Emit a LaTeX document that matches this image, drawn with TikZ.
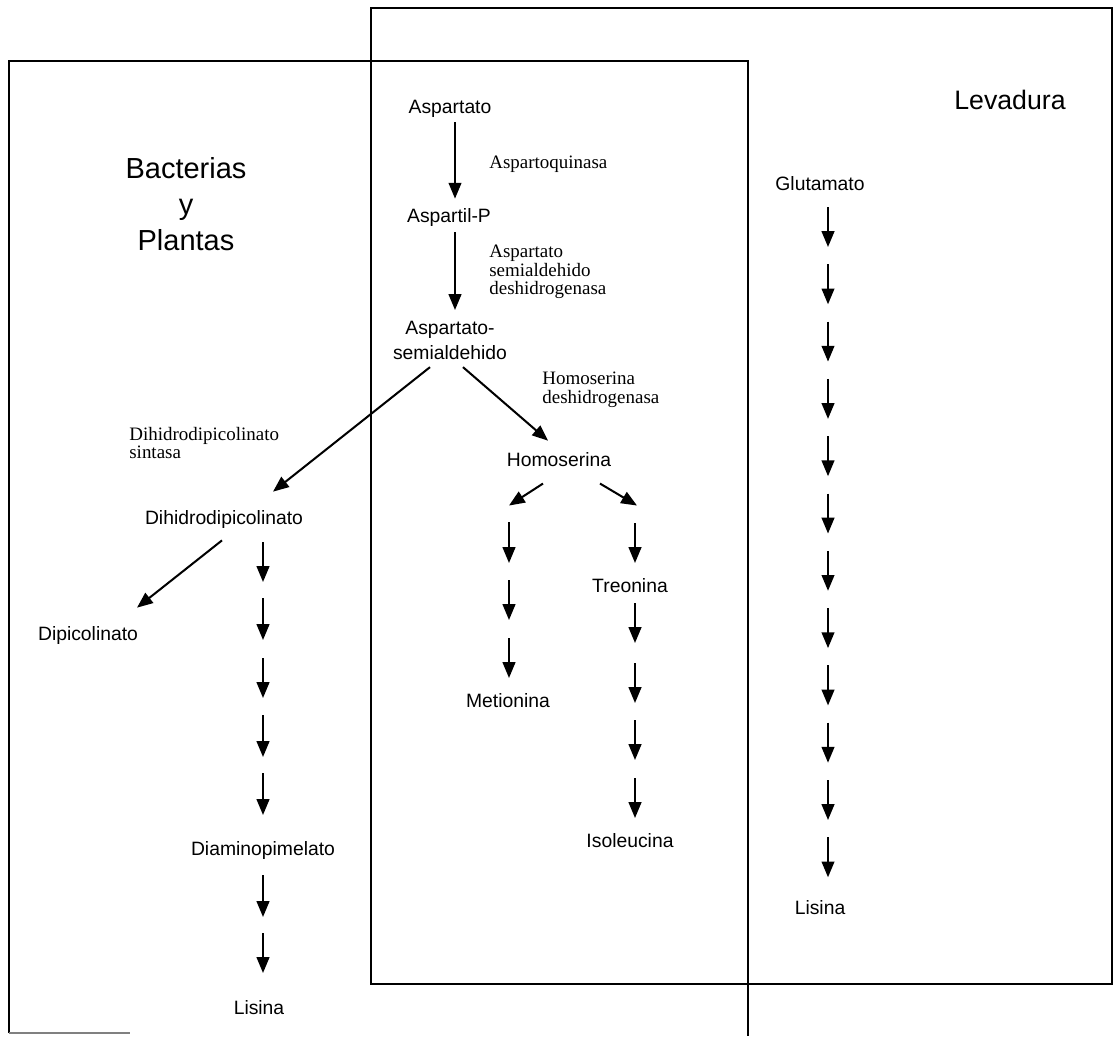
\documentclass[tikz,border=0pt]{standalone}
\usepackage{fontspec}
\setmainfont{Liberation Serif}
\setsansfont{Liberation Sans}
\usetikzlibrary{arrows.meta,calc}
\begin{document}
\begin{tikzpicture}[x=0.02cm,y=-0.02cm,
  box/.style={line width=1.1pt},
  arr/.style={line width=1.15pt,-{Triangle[length=9pt,width=7.2pt]}},
  met/.style={font=\sffamily\fontsize{11}{14.2}\selectfont,inner sep=0pt,align=center},
  enz/.style={font=\rmfamily\fontsize{10.8}{10.4}\selectfont,inner sep=0pt,align=left},
  org/.style={font=\sffamily\fontsize{16.5}{20.5}\selectfont,inner sep=0pt,align=center}]
\useasboundingbox (0,0) rectangle (1114,1036);
% boxes
\draw[box] (371,8) rectangle (1112,984);
\draw[box] (9,1033) -- (9,61) -- (748,61) -- (748,1036);
\draw[box,gray] (9,1033) -- (130,1033);
% organism labels
\node[org,anchor=north] (bac) at (186,157) {Bacterias\\y\\Plantas};
\node[org,anchor=base,font=\sffamily\fontsize{15.2}{18}\selectfont] (lev) at (1010,109) {Levadura};
% metabolites
\node[met,anchor=base] (asp) at (450,113) {Aspartato};
\node[met,anchor=base] (aspp) at (449,222) {Aspartil-P};
\node[met,anchor=north] (semi) at (450,321) {Aspartato-\\semialdehido};
\node[met,anchor=base] (hom) at (559,466) {Homoserina};
\node[met,anchor=base] (dih) at (224,524) {Dihidrodipicolinato};
\node[met,anchor=base] (dip) at (88,640) {Dipicolinato};
\node[met,anchor=base] (dap) at (263,855) {Diaminopimelato};
\node[met,anchor=base] (lisA) at (259,1014) {Lisina};
\node[met,anchor=base] (met) at (508,707) {Metionina};
\node[met,anchor=base] (tre) at (630,592) {Treonina};
\node[met,anchor=base] (ile) at (630,847) {Isoleucina};
\node[met,anchor=base] (glu) at (820,190) {Glutamato};
\node[met,anchor=base] (lisB) at (820,914) {Lisina};
% enzymes
\node[enz,anchor=base west] (e1) at (489,168) {Aspartoquinasa};
\node[enz,anchor=north west] (e2) at (489,245) {Aspartato\\semialdehido\\deshidrogenasa};
\node[enz,anchor=north west] (e3) at (542,372) {Homoserina\\deshidrogenasa};
\node[enz,anchor=north west] (e4) at (129,427) {Dihidrodipicolinato\\sintasa};
% main arrows
\draw[arr] ($(asp.south)+(5,5)$) -- ($(aspp.north)+(6,-9)$);
\draw[arr] ($(aspp.south)+(6,6)$) -- ($(semi.north)+(5,-11)$);
\draw[arr] ($(semi.south)+(-20,7)$) -- ($(dih.north)+(49,-18)$);
\draw[arr] ($(semi.south)+(13,7)$) -- ($(hom.north)+(-11,-11)$);
\draw[arr] ($(dih.south)+(-2,12)$) -- ($(dip.north)+(49,-18)$);
\draw[arr] ($(hom.south)+(-16,17)$) -- ($(hom.south)+(-50,39)$);
\draw[arr] ($(hom.south)+(41,17)$) -- ($(hom.south)+(78,39)$);
% left column (Dihidrodipicolinato -> Lisina)
\foreach \n/\a/\b in {1/542/582,2/598/640,3/658/698,4/715/757,5/773/815,6/875/917,7/933/973}{
  \coordinate (L\n a) at (263,\a); \coordinate (L\n b) at (263,\b);
  \draw[arr] (L\n a) -- (L\n b);}
% Metionina column
\foreach \n/\a/\b in {1/522/563,2/580/620,3/638/678}{
  \coordinate (M\n a) at (509,\a); \coordinate (M\n b) at (509,\b);
  \draw[arr] (M\n a) -- (M\n b);}
% Treonina / Isoleucina column
\foreach \n/\a/\b in {1/523/563,2/603/643,3/663/703,4/720/760,5/778/818}{
  \coordinate (T\n a) at (635,\a); \coordinate (T\n b) at (635,\b);
  \draw[arr] (T\n a) -- (T\n b);}
% Glutamato column
\foreach \k in {0,...,11}{
  \pgfmathsetmacro\ys{207+57.3*\k}
  \coordinate (G\k a) at (828,\ys); \coordinate (G\k b) at (828,\ys+40);
  \draw[arr] (G\k a) -- (G\k b);}
\end{tikzpicture}
\end{document}
